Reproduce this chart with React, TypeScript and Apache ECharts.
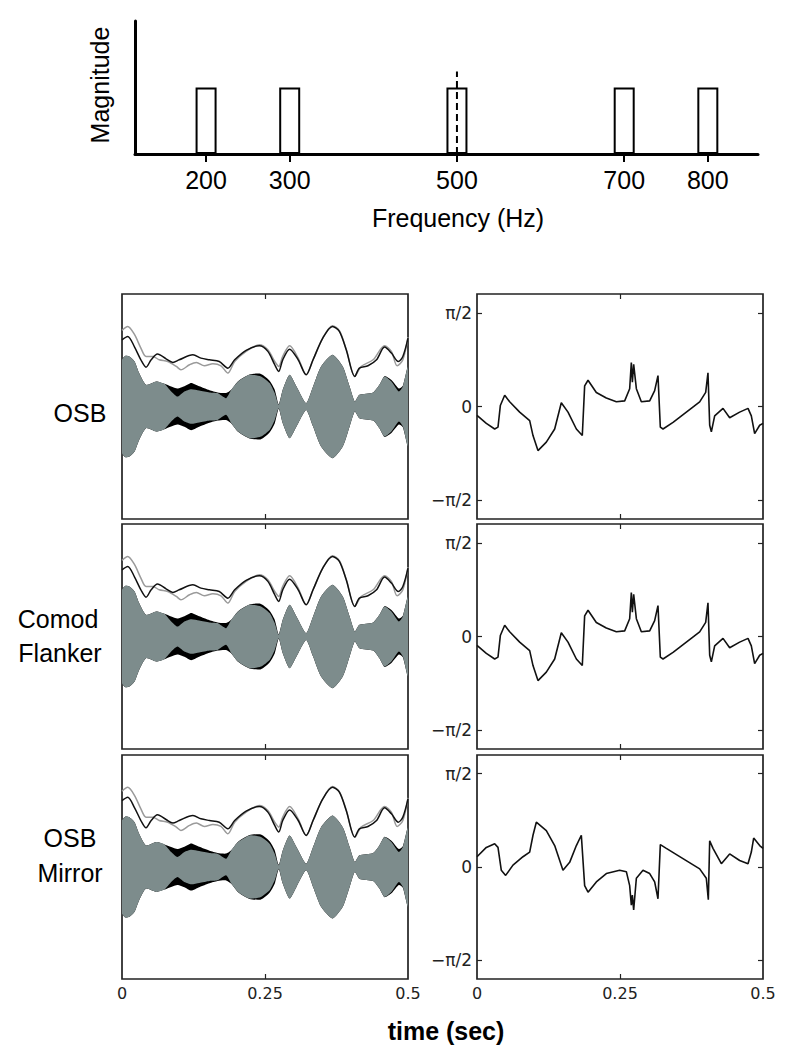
import React, { useEffect, useRef } from "react";
import * as echarts from "echarts";

// ---------- data ----------
const freqTicks = [200, 300, 500, 700, 800];
const componentFreqs = [200, 300, 500, 700, 800];
const componentMags = [0.5, 0.5, 0.5, 0.5, 0.5];
const signalFreq = 500;
const signalMarkerTop = 0.62;

const timeTicks = [0, 0.25, 0.5];
const timeInnerTicks = [0.25];
const phaseTicks = [-1, 0, 1]; // units of pi/2
const phaseTickLabels = ["\u2212\u03c0/2", "0", "\u03c0/2"];
const rowLabels = [["OSB"], ["Comod", "Flanker"], ["OSB", "Mirror"]];

// waveform envelope (upper half, symmetric), grey = OSB signal
const grayEnvelope: [number, number][] = [
  [0, 0.415], [0.006, 0.451], [0.013, 0.445], [0.022, 0.4], [0.03, 0.297], [0.042, 0.193],
  [0.06, 0.223], [0.074, 0.202], [0.086, 0.134], [0.097, 0.089], [0.109, 0.134], [0.121, 0.154],
  [0.135, 0.142], [0.153, 0.125], [0.167, 0.119], [0.182, 0.074], [0.191, 0.148], [0.203, 0.223],
  [0.223, 0.282], [0.243, 0.267], [0.258, 0.208], [0.267, 0.119], [0.274, 0.015], [0.281, 0.148],
  [0.293, 0.282], [0.305, 0.178], [0.322, 0.03], [0.334, 0.178], [0.348, 0.356], [0.368, 0.46],
  [0.386, 0.356], [0.398, 0.178], [0.407, 0.045], [0.415, 0.104], [0.439, 0.125], [0.45, 0.193],
  [0.459, 0.267], [0.471, 0.223], [0.484, 0.134], [0.491, 0.178], [0.5, 0.356],
];
// black waveform peeking out behind the grey one
const blackEnvelope: [number, number][] = [
  [0, 0.415], [0.006, 0.451], [0.013, 0.445], [0.022, 0.4], [0.03, 0.297], [0.042, 0.193],
  [0.06, 0.223], [0.074, 0.202], [0.086, 0.178], [0.097, 0.16], [0.109, 0.18], [0.121, 0.21],
  [0.135, 0.18], [0.153, 0.145], [0.167, 0.125], [0.182, 0.12], [0.191, 0.15], [0.203, 0.225],
  [0.223, 0.285], [0.243, 0.29], [0.258, 0.23], [0.267, 0.15], [0.274, 0.02], [0.281, 0.148],
  [0.293, 0.282], [0.305, 0.178], [0.322, 0.03], [0.334, 0.178], [0.348, 0.356], [0.368, 0.46],
  [0.386, 0.356], [0.398, 0.178], [0.407, 0.045], [0.415, 0.104], [0.439, 0.125], [0.45, 0.193],
  [0.459, 0.27], [0.471, 0.235], [0.484, 0.16], [0.491, 0.185], [0.5, 0.356],
];
// envelope traces drawn above the waveforms
const blackEnvLine: [number, number][] = [
  [0, 0.593], [0.01, 0.623], [0.022, 0.528], [0.033, 0.415], [0.042, 0.35], [0.051, 0.415],
  [0.062, 0.466], [0.077, 0.424], [0.089, 0.392], [0.1, 0.415], [0.124, 0.46], [0.138, 0.43],
  [0.153, 0.415], [0.17, 0.4], [0.185, 0.341], [0.197, 0.415], [0.217, 0.499], [0.24, 0.54],
  [0.255, 0.49], [0.267, 0.371], [0.274, 0.312], [0.281, 0.415], [0.293, 0.51], [0.308, 0.415],
  [0.322, 0.282], [0.334, 0.415], [0.351, 0.608], [0.368, 0.712], [0.38, 0.668], [0.392, 0.504],
  [0.407, 0.267], [0.415, 0.341], [0.43, 0.362], [0.445, 0.415], [0.459, 0.528], [0.471, 0.475],
  [0.483, 0.4], [0.491, 0.445], [0.5, 0.608],
];
const grayEnvLine: [number, number][] = [
  [0, 0.677], [0.01, 0.712], [0.022, 0.638], [0.033, 0.519], [0.042, 0.445], [0.054, 0.445],
  [0.065, 0.415], [0.08, 0.4], [0.095, 0.356], [0.103, 0.326], [0.118, 0.371], [0.13, 0.392],
  [0.144, 0.362], [0.159, 0.38], [0.173, 0.362], [0.185, 0.297], [0.197, 0.4], [0.217, 0.49],
  [0.24, 0.549], [0.255, 0.504], [0.267, 0.4], [0.274, 0.356], [0.281, 0.445], [0.293, 0.54],
  [0.308, 0.43], [0.322, 0.282], [0.334, 0.415], [0.351, 0.608], [0.368, 0.718], [0.38, 0.674],
  [0.392, 0.51], [0.407, 0.267], [0.418, 0.356], [0.439, 0.415], [0.459, 0.54], [0.471, 0.49],
  [0.481, 0.362], [0.491, 0.415], [0.5, 0.617],
];

// phase (units of pi/2)
const phaseOSB: [number, number][] = [
  [0, -0.095], [0.0163, -0.18], [0.0309, -0.24], [0.0367, -0.22], [0.0408, 0.01], [0.0484, 0.12],
  [0.0571, 0.05], [0.0746, -0.06], [0.0921, -0.15], [0.0979, -0.31], [0.1066, -0.47], [0.1212, -0.38],
  [0.1358, -0.24], [0.1474, 0.04], [0.1591, -0.06], [0.1737, -0.24], [0.1841, -0.31], [0.1882, 0.22],
  [0.1941, 0.28], [0.2086, 0.15], [0.2261, 0.09], [0.2436, 0.05], [0.2582, 0.06], [0.2669, 0.19],
  [0.2698, 0.47], [0.2716, 0.26], [0.2739, 0.45], [0.2786, 0.19], [0.2873, 0.05], [0.3019, 0.06],
  [0.3106, 0.17], [0.3164, 0.33], [0.3205, -0.22], [0.3252, -0.24], [0.3427, -0.17], [0.366, -0.06],
  [0.3893, 0.05], [0.3998, 0.15], [0.4038, 0.36], [0.4068, -0.2], [0.4097, -0.27], [0.4155, -0.1],
  [0.4301, -0.02], [0.4417, -0.12], [0.4592, -0.06], [0.4738, -0.02], [0.4796, -0.1], [0.4854, -0.29],
  [0.4942, -0.2], [0.5, -0.18],
];
const phaseComod: [number, number][] = phaseOSB.map((p) => [p[0], p[1]]);
const phaseMirror: [number, number][] = [
  [0, 0.11], [0.0163, 0.21], [0.0309, 0.25], [0.0367, 0.21], [0.0425, -0.035], [0.0501, -0.09],
  [0.0629, 0.02], [0.0804, 0.11], [0.0921, 0.16], [0.0979, 0.34], [0.1037, 0.48], [0.1212, 0.39],
  [0.1358, 0.23], [0.1503, -0.035], [0.162, 0.05], [0.1737, 0.23], [0.1824, 0.34], [0.1882, -0.2],
  [0.1941, -0.27], [0.2086, -0.16], [0.2261, -0.07], [0.2494, -0.035], [0.2611, -0.05], [0.2669, -0.2],
  [0.2698, -0.41], [0.2716, -0.3], [0.2739, -0.46], [0.2786, -0.12], [0.2902, -0.035], [0.3019, -0.07],
  [0.3106, -0.16], [0.3164, -0.34], [0.3205, 0.24], [0.331, 0.2], [0.3601, 0.09], [0.3893, -0.02],
  [0.4009, -0.12], [0.4044, -0.35], [0.4068, 0.28], [0.4126, 0.2], [0.4272, 0.035], [0.4417, 0.14],
  [0.4592, 0.07], [0.4738, 0.035], [0.4796, 0.16], [0.4837, 0.31], [0.4942, 0.23], [0.5, 0.2],
];
const phaseRows = [phaseOSB, phaseComod, phaseMirror];

// ---------- layout ----------
const FONT = "'Liberation Sans', Arial, Helvetica, sans-serif";
const TICKFONT = "'DejaVu Sans', sans-serif";
const GRAY = "#7d8c8c";
const rowTops = [294, 524, 755];
const rowHeights = [225, 225, 224];
const leftX = 122;
const rightX = 477;
const panelW = 286;

function buildOption() {
  const grid: any[] = [{ left: 135, top: 21, width: 623, height: 133 }];
  const xAxis: any[] = [
    {
      type: "value", gridIndex: 0, min: 115, max: 860,
      axisLine: { show: true, onZero: false, lineStyle: { color: "#000", width: 3 } },
      axisTick: { show: true, customValues: freqTicks, length: 8, lineStyle: { color: "#000", width: 2 } },
      axisLabel: { show: true, customValues: freqTicks, fontFamily: FONT, fontSize: 25, color: "#000", margin: 13 },
      splitLine: { show: false },
    },
  ];
  const yAxis: any[] = [
    {
      type: "value", gridIndex: 0, min: 0, max: 1,
      axisLine: { show: true, onZero: false, lineStyle: { color: "#000", width: 3 } },
      axisTick: { show: false }, axisLabel: { show: false }, splitLine: { show: false },
    },
  ];
  const series: any[] = [
    {
      type: "bar", xAxisIndex: 0, yAxisIndex: 0, barWidth: 21,
      data: componentFreqs.map((f, i) => [f, componentMags[i]]),
      itemStyle: { color: "#fff", borderColor: "#000", borderWidth: 2 },
      z: 3,
    },
    {
      type: "line", xAxisIndex: 0, yAxisIndex: 0, symbol: "none",
      data: [[signalFreq, 0], [signalFreq, signalMarkerTop]],
      lineStyle: { color: "#000", width: 2, type: [7, 4] }, z: 4,
    },
  ];

  const frame = { show: true, borderColor: "#222", borderWidth: 1.7, backgroundColor: "transparent" };
  const noLine = { show: false, onZero: false };
  const addPanel = (left: number, row: number, isPhase: boolean) => {
    const g = grid.length;
    grid.push({ ...frame, left, top: rowTops[row], width: panelW, height: rowHeights[row] });
    const tickStyle = { color: "#222", width: 1.2 };
    const xb = xAxis.length;
    xAxis.push({
      type: "value", gridIndex: g, min: 0, max: 0.5, position: "bottom",
      axisLine: noLine, splitLine: { show: false },
      axisTick: { show: true, inside: true, length: 5, customValues: timeInnerTicks, lineStyle: tickStyle },
      axisLabel: { show: row === 2, customValues: timeTicks, fontFamily: TICKFONT, fontSize: 16, color: "#222", margin: 6 },
    });
    xAxis.push({
      type: "value", gridIndex: g, min: 0, max: 0.5, position: "top",
      axisLine: noLine, splitLine: { show: false },
      axisTick: { show: true, inside: true, length: 5, customValues: timeInnerTicks, lineStyle: tickStyle },
      axisLabel: { show: false },
    });
    const yl = yAxis.length;
    if (isPhase) {
      yAxis.push({
        type: "value", gridIndex: g, min: -1.2, max: 1.2, position: "left",
        axisLine: noLine, splitLine: { show: false },
        axisTick: { show: true, inside: true, length: 5, customValues: phaseTicks, lineStyle: tickStyle },
        axisLabel: {
          show: true, customValues: phaseTicks, fontFamily: TICKFONT, fontSize: 17, color: "#222", margin: 5,
          formatter: (v: number) => phaseTickLabels[phaseTicks.indexOf(Math.round(v))] ?? "",
        },
      });
      yAxis.push({
        type: "value", gridIndex: g, min: -1.2, max: 1.2, position: "right",
        axisLine: noLine, splitLine: { show: false },
        axisTick: { show: true, inside: true, length: 5, customValues: phaseTicks, lineStyle: tickStyle },
        axisLabel: { show: false },
      });
      series.push({
        type: "line", xAxisIndex: xb, yAxisIndex: yl, symbol: "none", data: phaseRows[row],
        lineStyle: { color: "#111", width: 1.6 },
      });
    } else {
      yAxis.push({
        type: "value", gridIndex: g, min: -1, max: 1,
        axisLine: noLine, splitLine: { show: false },
        axisTick: { show: false }, axisLabel: { show: false },
      });
      const band = (env: [number, number][], color: string, z: number) => {
        series.push({
          type: "custom", xAxisIndex: xb, yAxisIndex: yl, z, clip: true,
          data: env.map((p) => [p[0], p[1]]),
          renderItem: (params: any, api: any) => {
            if (params.dataIndex !== 0) return null;
            const pts: number[][] = [];
            for (const p of env) pts.push(api.coord([p[0], p[1]]));
            for (let i = env.length - 1; i >= 0; i--) pts.push(api.coord([env[i][0], -env[i][1]]));
            return { type: "polygon", shape: { points: pts, smooth: 0.2 }, style: { fill: color } };
          },
        });
      };
      band(blackEnvelope, "#000", 2);
      band(grayEnvelope, GRAY, 3);
      series.push({
        type: "line", xAxisIndex: xb, yAxisIndex: yl, symbol: "none", smooth: 0.3, data: grayEnvLine,
        lineStyle: { color: "#9a9a9a", width: 1.5 }, z: 4,
      });
      series.push({
        type: "line", xAxisIndex: xb, yAxisIndex: yl, symbol: "none", smooth: 0.3, data: blackEnvLine,
        lineStyle: { color: "#111", width: 1.5 }, z: 5,
      });
    }
  };
  for (let r = 0; r < 3; r++) addPanel(leftX, r, false);
  for (let r = 0; r < 3; r++) addPanel(rightX, r, true);

  const labelPos = [
    [[80, 413]],
    [[58, 619], [60, 653]],
    [[70, 838], [70, 873]],
  ];
  const graphic: any[] = [
    {
      type: "text", x: 100, y: 85, rotation: Math.PI / 2,
      style: { text: "Magnitude", font: `25px ${FONT}`, fill: "#000", align: "center", verticalAlign: "middle" },
    },
    {
      type: "text", x: 458, y: 218,
      style: { text: "Frequency (Hz)", font: `25px ${FONT}`, fill: "#000", align: "center", verticalAlign: "middle" },
    },
    {
      type: "text", x: 446, y: 1031,
      style: { text: "time (sec)", font: `bold 25px ${FONT}`, fill: "#000", align: "center", verticalAlign: "middle" },
    },
  ];
  rowLabels.forEach((lines, r) => {
    lines.forEach((t, i) => {
      graphic.push({
        type: "text", x: labelPos[r][i][0], y: labelPos[r][i][1],
        style: { text: t, font: `25px ${FONT}`, fill: "#000", align: "center", verticalAlign: "middle" },
      });
    });
  });

  return { animation: false, backgroundColor: "#fff", grid, xAxis, yAxis, series, graphic };
}

export default function App() {
  const ref = useRef<HTMLDivElement>(null);
  useEffect(() => {
    if (!ref.current) return;
    const chart = echarts.init(ref.current, undefined, { renderer: "svg" });
    chart.setOption(buildOption() as any);
    return () => chart.dispose();
  }, []);
  return (
    <div
      ref={ref}
      style={{ position: "absolute", left: 0, top: 0, width: 789, height: 1056 }}
    />
  );
}
